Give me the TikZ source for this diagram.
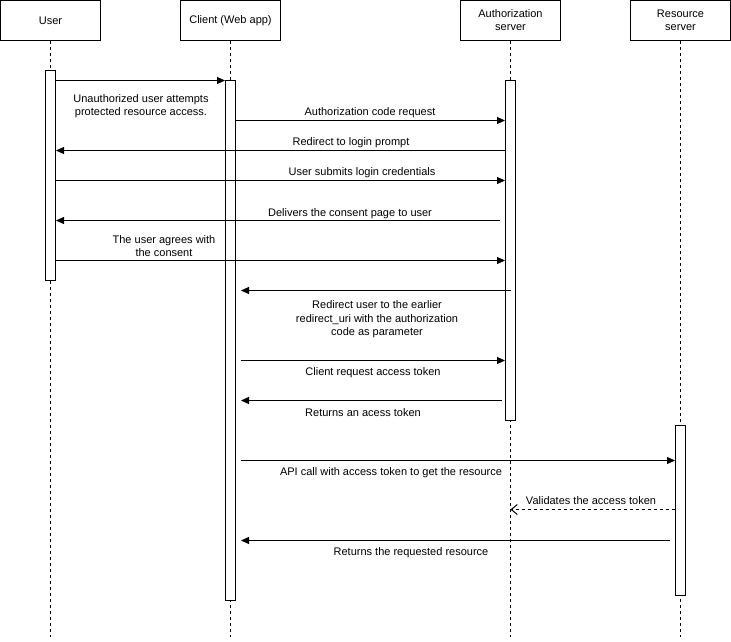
\documentclass[tikz,border=0pt]{standalone}
\usepackage{fontspec}
\setmainfont{Liberation Sans}
\usetikzlibrary{arrows.meta}

\begin{document}
\begin{tikzpicture}[x=1pt,y=-1pt,line width=1pt,
    every node/.style={font=\fontsize{11}{13.5}\selectfont},
    actor/.style={draw,align=center,minimum width=100pt,minimum height=40pt,inner sep=0pt},
    bar/.style={draw,fill=white,minimum width=10pt,inner sep=0pt},
    life/.style={dash pattern=on 3pt off 3pt},
    msg/.style={-{Triangle[length=8pt,width=7pt]}},
    reply/.style={dash pattern=on 3pt off 3pt,-{Straight Barb[length=6pt,width=10pt]}},
    lbl/.style={align=center,inner sep=0pt}]
    \useasboundingbox (0,0) rectangle (731,641);
    \node (user)   at (50.5,20.5)  [actor] {User};
    \node (client) at (230.5,20.5) [actor] {Client (Web app)};
    \node (auth)   at (510.5,20.5) [actor,font=\fontsize{11}{13}\selectfont] {Authorization\\server};
    \node (res)    at (680.5,20.5) [actor,font=\fontsize{11}{13}\selectfont] {Resource\\server};
    \coordinate (userend)   at (50.5,637);
    \coordinate (clientend) at (230.5,637);
    \coordinate (authend)   at (510.5,637);
    \coordinate (resend)    at (680.5,637);
    \draw[life] (user)   -- (userend);
    \draw[life] (client) -- (clientend);
    \draw[life] (auth)   -- (authend);
    \draw[life] (res)    -- (resend);
    \node (ubar) at (50.5,175.5)  [bar,minimum height=210pt] {};
    \node (cbar) at (230.5,340.5) [bar,minimum height=520pt] {};
    \node (abar) at (510.5,250.5) [bar,minimum height=340pt] {};
    \node (rbar) at (680.5,510.5) [bar,minimum height=170pt] {};
    \draw[msg]                     (ubar.east |- 0,80.5)  -- (cbar.west |- 0,80.5);
    \draw[msg]                     (cbar.east |- 0,120.5) -- (abar.west |- 0,120.5);
    \draw[msg]                     (abar.west |- 0,150.5) -- (ubar.east |- 0,150.5);
    \draw[msg]                     (ubar.east |- 0,180.5) -- (abar.west |- 0,180.5);
    \draw[msg,shorten <=5pt]       (abar.west |- 0,220.5) -- (ubar.east |- 0,220.5);
    \draw[msg]                     (ubar.east |- 0,260.5) -- (abar.west |- 0,260.5);
    \draw[msg,shorten >=5pt]       (abar |- 0,290.5)      -- (cbar.east |- 0,290.5);
    \draw[msg,shorten <=5pt]       (cbar.east |- 0,360.5) -- (abar.west |- 0,360.5);
    \draw[msg,shorten <=3pt,shorten >=5pt] (abar.west |- 0,400.5) -- (cbar.east |- 0,400.5);
    \draw[msg,shorten <=5pt]       (cbar.east |- 0,460.5) -- (rbar.west |- 0,460.5);
    \draw[reply]                   (rbar.west |- 0,509.5) -- (auth |- 0,509.5);
    \draw[msg,shorten <=5pt,shorten >=5pt] (rbar.west |- 0,540.5) -- (cbar.east |- 0,540.5);
    \node (m1)  at (141,106)   [lbl] {Unauthorized user attempts\\protected resource access.};
    \node (m2)  at (370,113)   [lbl] {Authorization code request};
    \node (m3)  at (351,143)   [lbl] {Redirect to login prompt};
    \node (m4)  at (362,173)   [lbl] {User submits login credentials};
    \node (m5)  at (350,214)   [lbl] {Delivers the consent page to user};
    \node (m6)  at (164,246)   [lbl] {The user agrees with\\the consent};
    \node (m7)  at (377,319.5) [lbl] {Redirect user to the earlier\\redirect\_uri with the authorization\\code as parameter};
    \node (m8)  at (373,373)   [lbl] {Client request access token};
    \node (m9)  at (363,413)   [lbl] {Returns an acess token};
    \node (m10) at (391,473)   [lbl] {API call with access token to get the resource};
    \node (m11) at (591,501)   [lbl] {Validates the access token};
    \node (m12) at (411,553)   [lbl] {Returns the requested resource};
\end{tikzpicture}
\end{document}
